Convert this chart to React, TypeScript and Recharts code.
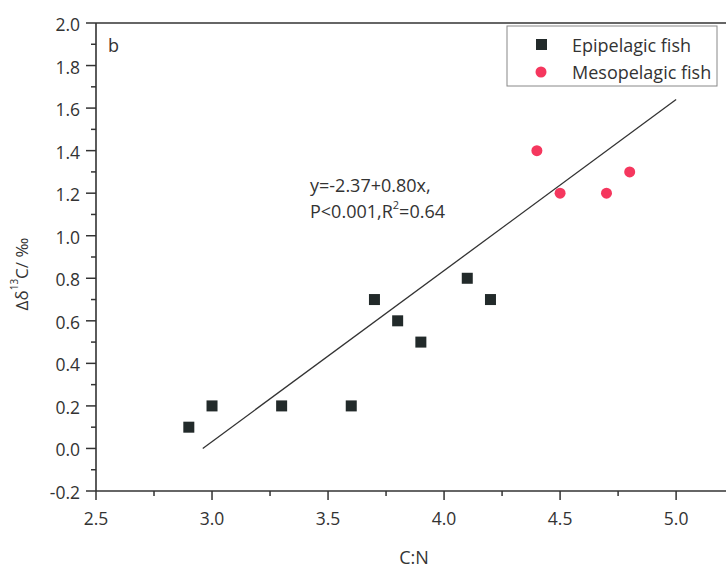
import React from 'react';
import { ScatterChart, Scatter, XAxis, YAxis, ReferenceLine } from 'recharts';

const epipelagic = [
  { x: 2.9, y: 0.1 },
  { x: 3.0, y: 0.2 },
  { x: 3.3, y: 0.2 },
  { x: 3.6, y: 0.2 },
  { x: 3.7, y: 0.7 },
  { x: 3.8, y: 0.6 },
  { x: 3.9, y: 0.5 },
  { x: 4.1, y: 0.8 },
  { x: 4.2, y: 0.7 },
];
const mesopelagic = [
  { x: 4.4, y: 1.4 },
  { x: 4.5, y: 1.2 },
  { x: 4.7, y: 1.2 },
  { x: 4.8, y: 1.3 },
];
const fitLine = [
  { x: 2.96, y: 0.0 },
  { x: 5.0, y: 1.64 },
];
const xMajor = [2.5, 3.0, 3.5, 4.0, 4.5, 5.0];
const xMinor = [2.75, 3.25, 3.75, 4.25, 4.75];
const yMajor = [-0.2, 0.0, 0.2, 0.4, 0.6, 0.8, 1.0, 1.2, 1.4, 1.6, 1.8, 2.0];
const yMinor = [-0.1, 0.1, 0.3, 0.5, 0.7, 0.9, 1.1, 1.3, 1.5, 1.7, 1.9];
const xDomain = [2.5, 5.215];
const yDomain = [-0.2, 2.0];

const FONT = '"Open Sans", "DejaVu Sans", sans-serif';
const INK = '#333';
const SQUARE = '#222a2a';
const PINK = '#f5375e';
const TICK_FS = 17.5;
const TEXT_FS = 18;

const isMajor = (arr: number[], v: number) => arr.some((m) => Math.abs(m - v) < 1e-6);

const XTick = (props: any) => {
  const { x, y, payload } = props;
  const major = isMajor(xMajor, payload.value);
  return (
    <g>
      <line x1={x} x2={x} y1={y} y2={y + (major ? 9 : 5)} stroke={INK} strokeWidth={1.5} />
      {major && (
        <text x={x} y={y + 27} textAnchor="middle" dominantBaseline="central" fill={INK} fontSize={TICK_FS} fontFamily={FONT}>
          {payload.value.toFixed(1)}
        </text>
      )}
    </g>
  );
};

const YTick = (props: any) => {
  const { x, y, payload } = props;
  const major = isMajor(yMajor, payload.value);
  return (
    <g>
      <line x1={x} x2={x - (major ? 10 : 5)} y1={y} y2={y} stroke={INK} strokeWidth={1.5} />
      {major && (
        <text x={x - 16} y={y + 1} textAnchor="end" dominantBaseline="central" fill={INK} fontSize={TICK_FS} fontFamily={FONT}>
          {payload.value.toFixed(1)}
        </text>
      )}
    </g>
  );
};

const SquareShape = (props: any) => {
  const { cx, cy } = props;
  return <rect x={cx - 5.5} y={cy - 5.5} width={11} height={11} fill={SQUARE} />;
};
const CircleShape = (props: any) => {
  const { cx, cy } = props;
  return <circle cx={cx} cy={cy} r={5.5} fill={PINK} />;
};

export default function App() {
  return (
    <div style={{ position: 'absolute', left: 0, top: 0, width: 726, height: 570, background: '#fff' }}>
      <ScatterChart width={726} height={570} margin={{ top: 23, right: 0, bottom: 0, left: 0 }}>
        <XAxis
          type="number"
          dataKey="x"
          domain={xDomain}
          ticks={[...xMajor, ...xMinor].sort((a, b) => a - b)}
          interval={0}
          allowDataOverflow
          height={79}
          tickSize={0}
          tickMargin={0}
          tick={<XTick />}
          axisLine={{ stroke: INK, strokeWidth: 1.6 }}
        />
        <YAxis
          type="number"
          dataKey="y"
          domain={yDomain}
          ticks={[...yMajor, ...yMinor].sort((a, b) => a - b)}
          interval={0}
          allowDataOverflow
          width={96}
          tickSize={0}
          tickMargin={0}
          tick={<YTick />}
          axisLine={{ stroke: INK, strokeWidth: 1.6 }}
        />
        <ReferenceLine y={2.0} stroke={INK} strokeWidth={1.6} ifOverflow="extendDomain" />
        <ReferenceLine segment={fitLine} stroke={INK} strokeWidth={1.3} />
        <Scatter name="Epipelagic fish" data={epipelagic} shape={<SquareShape />} isAnimationActive={false} />
        <Scatter name="Mesopelagic fish" data={mesopelagic} shape={<CircleShape />} isAnimationActive={false} />
      </ScatterChart>
      <svg
        width={726}
        height={570}
        style={{ position: 'absolute', left: 0, top: 0, pointerEvents: 'none' }}
        fontFamily={FONT}
        fill={INK}
      >
        <text x={108} y={45} fontSize={TEXT_FS} dominantBaseline="central">b</text>
        <text x={310} y={185} fontSize={TEXT_FS} dominantBaseline="central">y=-2.37+0.80x,</text>
        <text x={310} y={211} fontSize={TEXT_FS} dominantBaseline="central">
          P&lt;0.001,R<tspan fontSize={11} dy={-7}>2</tspan><tspan dy={7}>=0.64</tspan>
        </text>
        <rect x={507} y={26} width={210} height={60} fill="#fff" stroke="#888" strokeWidth={1} />
        <rect x={536} y={39} width={11} height={11} fill={SQUARE} />
        <text x={572} y={45} fontSize={TEXT_FS} dominantBaseline="central">Epipelagic fish</text>
        <circle cx={541} cy={72} r={5.5} fill={PINK} />
        <text x={572} y={72} fontSize={TEXT_FS} dominantBaseline="central">Mesopelagic fish</text>
        <text x={414} y={557} fontSize={TEXT_FS} textAnchor="middle" dominantBaseline="central">C:N</text>
        <text transform="translate(21,274) rotate(-90)" fontSize={17} textAnchor="middle" dominantBaseline="central">
          Δδ<tspan fontSize={10} dy={-7}>13</tspan><tspan dy={7}>C/ ‰</tspan>
        </text>
      </svg>
    </div>
  );
}
